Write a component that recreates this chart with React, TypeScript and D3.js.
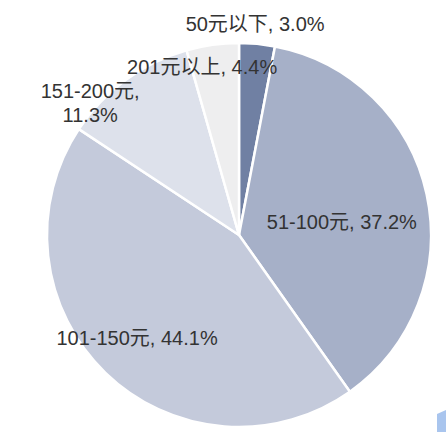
import React from "react";
import * as d3 from "d3";

// price bands and their share of sales (%)
const categories = ["50元以下", "51-100元", "101-150元", "151-200元", "201元以上"];
const shares = [3.0, 37.2, 44.1, 11.3, 4.4];
const colors = ["#7080a3", "#a6b0c8", "#c4cadb", "#dde1eb", "#eeeeef"];

// label placement: radius factor and angle nudge relative to slice middle
const labelRadius = [1.1, 0.54, 0.755, 1.035, 0.895];
const labelAngleShift = [-0.018, 0.088, 0.01, -0.215, -0.078];
// label text, split where the chart wraps it
const labelLines: string[][] = [
  ["50元以下, 3.0%"],
  ["51-100元, 37.2%"],
  ["101-150元, 44.1%"],
  ["151-200元,", "11.3%"],
  ["201元以上, 4.4%"],
];

const width = 446;
const height = 432;
const cx = 239;
const cy = 235;
const radius = 192;

const App: React.FC = () => {
  const pie = d3
    .pie<number>()
    .sort(null)
    .value((d) => d);
  const arcs = pie(shares);
  const arc = d3.arc<d3.PieArcDatum<number>>().innerRadius(0).outerRadius(radius);

  return (
    <svg
      width={width}
      height={height}
      style={{ position: "absolute", left: 0, top: 0, background: "#fff" }}
      fontFamily="Arial, 'Liberation Sans', 'Noto Sans CJK SC', sans-serif"
    >
      <g transform={`translate(${cx},${cy})`}>
        {arcs.map((a, i) => (
          <path
            key={categories[i]}
            d={arc(a) ?? ""}
            fill={colors[i]}
            stroke="#fff"
            strokeWidth={2.5}
            strokeLinejoin="round"
          />
        ))}
        {arcs.map((a, i) => {
          const ang = (a.startAngle + a.endAngle) / 2 + labelAngleShift[i];
          const r = radius * labelRadius[i];
          const x = r * Math.sin(ang);
          const y = -r * Math.cos(ang);
          const lines = labelLines[i];
          const lh = 24;
          return (
            <text
              key={"l" + i}
              x={x}
              y={y - ((lines.length - 1) * lh) / 2}
              textAnchor="middle"
              fontSize={20}
              fill="#333"
            >
              {lines.map((t, j) => (
                <tspan key={j} x={x} dy={j === 0 ? "0.35em" : lh}>
                  {t}
                </tspan>
              ))}
            </text>
          );
        })}
      </g>
      {/* edge of a neighbouring element cut off by the crop */}
      <path d="M437,414 L446,410 L446,432 L437,432 Z" fill="#a9c5ee" />
    </svg>
  );
};

export default App;
